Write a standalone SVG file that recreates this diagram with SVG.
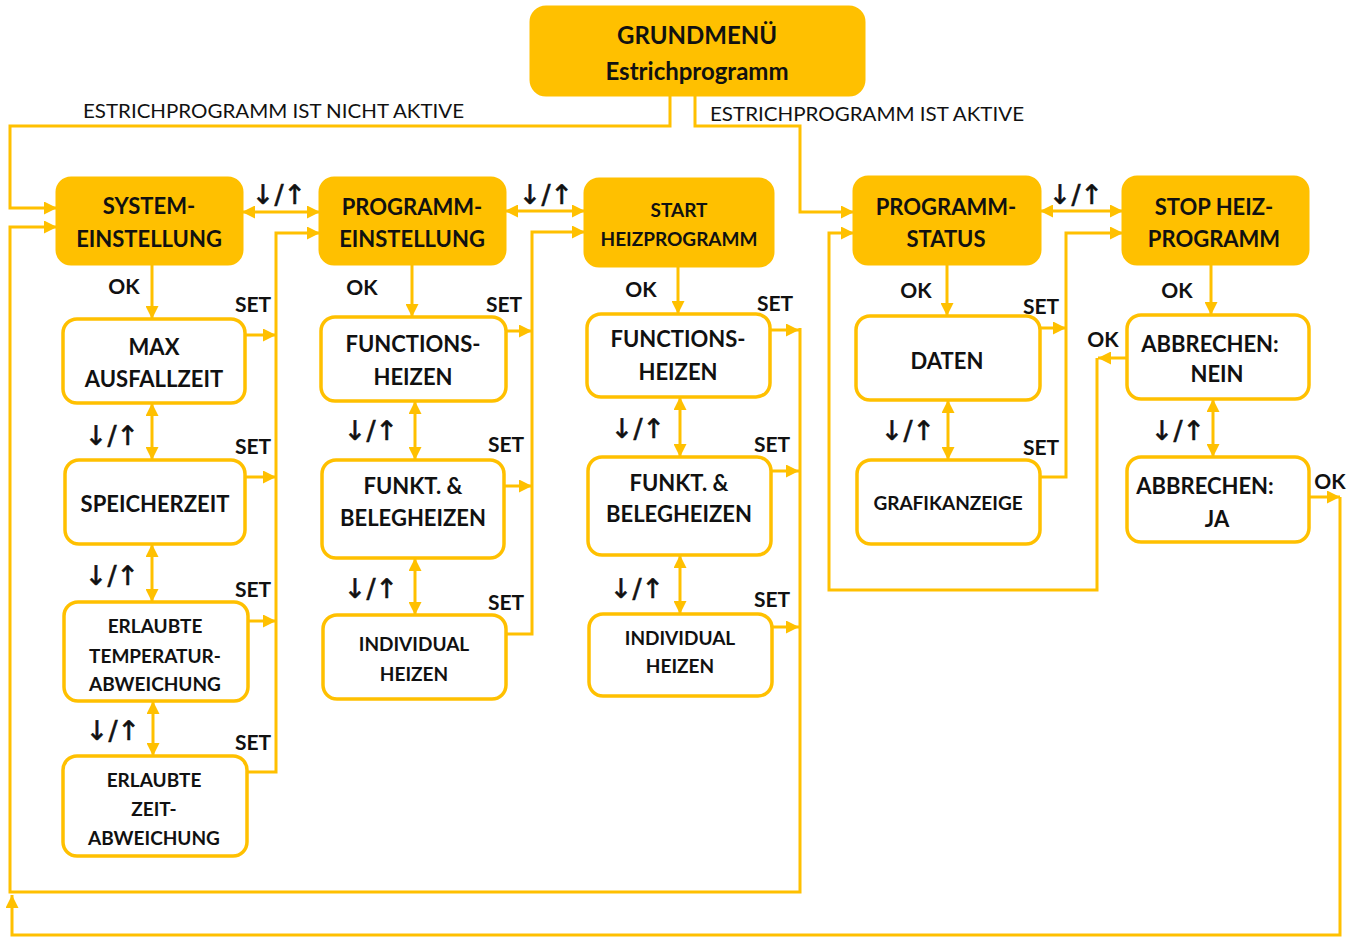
<svg xmlns="http://www.w3.org/2000/svg" width="1361" height="937" viewBox="0 0 1361 937">
<style>
.fill{fill:#FFC000;stroke:#FFC000;stroke-width:3}
.box{fill:#fff;stroke:#FFC000;stroke-width:3.5}
.t{font-family:Lato,"Liberation Sans",sans-serif;font-weight:bold;font-size:22px;fill:#111;text-anchor:middle;dominant-baseline:central}
.s{font-size:19px}
.lb{font-family:Lato,"Liberation Sans",sans-serif;font-weight:bold;font-size:21px;fill:#111;text-anchor:middle;dominant-baseline:central}
.ar{font-family:"DejaVu Sans",sans-serif;font-size:27px;fill:#111;stroke:#111;stroke-width:0.6;text-anchor:middle;dominant-baseline:central}
.n{font-family:Lato,"Liberation Sans",sans-serif;font-size:19.5px;fill:#111;dominant-baseline:central}
.c{fill:none;stroke:#FFC000;stroke-width:3}
.a{marker-end:url(#ah)}
.d{marker-start:url(#ah);marker-end:url(#ah)}
</style>
<defs>
<marker id="ah" viewBox="0 0 10 10" refX="10" refY="5" markerWidth="13" markerHeight="13" markerUnits="userSpaceOnUse" orient="auto-start-reverse">
<path d="M0,0 L10,5 L0,10 z" fill="#FFC000"/>
</marker>
</defs>
<rect width="1361" height="937" fill="#fff"/>

<g id="connectors">
<path class="c a" d="M670,95 V126 H10 V208 H57"/>
<path class="c a" d="M695,95 V126 H800 V212 H854"/>
<path class="c d" d="M242,212 H320"/>
<path class="c d" d="M505,211 H585"/>
<path class="c d" d="M1040,211 H1123"/>
<path class="c a" d="M152,264 V319"/>
<path class="c a" d="M412,264 V317"/>
<path class="c a" d="M678,266 V314"/>
<path class="c a" d="M947,264 V316"/>
<path class="c a" d="M1211,264 V315"/>
<path class="c d" d="M152,403 V460"/>
<path class="c d" d="M152,544 V602"/>
<path class="c d" d="M153,701 V756"/>
<path class="c d" d="M415,401 V460"/>
<path class="c d" d="M415,558 V615"/>
<path class="c d" d="M680,397 V457"/>
<path class="c d" d="M680,555 V614"/>
<path class="c d" d="M948,400 V460"/>
<path class="c d" d="M1213,399 V457"/>
<path class="c a" d="M245,335 H276"/>
<path class="c a" d="M245,477 H276"/>
<path class="c a" d="M248,621 H276"/>
<path class="c a" d="M247,772 H276 V233 H320"/>
<path class="c a" d="M506,331 H532"/>
<path class="c a" d="M504,486 H532"/>
<path class="c a" d="M506,634 H532 V232 H585"/>
<path class="c a" d="M770,330 H799"/>
<path class="c a" d="M771,471 H799"/>
<path class="c a" d="M772,627 H799"/>
<path class="c a" d="M800,328 V892 H10 V227 H57"/>
<path class="c a" d="M1040,328 H1066"/>
<path class="c a" d="M1040,477 H1066 V233 H1123"/>
<path class="c a" d="M1127,358 H1098"/>
<path class="c a" d="M1097,358 V590 H829 V233 H854"/>
<path class="c a" d="M1309,497 H1340"/>
<path class="c a" d="M1340,497 V935 H12 V895"/>
</g>

<g id="labels">
<text class="n" x="83" y="110" textLength="381" lengthAdjust="spacingAndGlyphs">ESTRICHPROGRAMM IST NICHT AKTIVE</text>
<text class="n" x="710" y="113" textLength="314" lengthAdjust="spacingAndGlyphs">ESTRICHPROGRAMM IST AKTIVE</text>
<text class="lb" x="124" y="285">OK</text>
<text class="lb" x="362" y="286">OK</text>
<text class="lb" x="641" y="288">OK</text>
<text class="lb" x="916" y="289">OK</text>
<text class="lb" x="1177" y="289">OK</text>
<text class="lb" x="1103" y="338">OK</text>
<text class="lb" x="1330" y="480">OK</text>
<text class="lb" x="253" y="303">SET</text>
<text class="lb" x="253" y="445">SET</text>
<text class="lb" x="253" y="588">SET</text>
<text class="lb" x="253" y="741">SET</text>
<text class="lb" x="504" y="303">SET</text>
<text class="lb" x="506" y="443">SET</text>
<text class="lb" x="506" y="601">SET</text>
<text class="lb" x="775" y="302">SET</text>
<text class="lb" x="772" y="443">SET</text>
<text class="lb" x="772" y="598">SET</text>
<text class="lb" x="1041" y="305">SET</text>
<text class="lb" x="1041" y="446">SET</text>
<text class="ar" x="279" y="194">↓/↑</text>
<text class="ar" x="546" y="194">↓/↑</text>
<text class="ar" x="1076" y="194">↓/↑</text>
<text class="ar" x="112" y="435">↓/↑</text>
<text class="ar" x="112" y="575">↓/↑</text>
<text class="ar" x="113" y="730">↓/↑</text>
<text class="ar" x="371" y="430">↓/↑</text>
<text class="ar" x="371" y="588">↓/↑</text>
<text class="ar" x="638" y="428">↓/↑</text>
<text class="ar" x="637" y="588">↓/↑</text>
<text class="ar" x="908" y="430">↓/↑</text>
<text class="ar" x="1178" y="430">↓/↑</text>
</g>

<g id="grundmenu">
<rect class="fill" x="531" y="7" width="333" height="88" rx="15"/>
<text class="t" x="697" y="34" style="font-size:24px">GRUNDMENÜ</text>
<text class="t" x="697" y="70" style="font-size:24px">Estrichprogramm</text>
</g>
<g id="system">
<rect class="fill" x="57" y="178" width="185" height="86" rx="14"/>
<text class="t" x="149" y="205">SYSTEM-</text>
<text class="t" x="149" y="238">EINSTELLUNG</text>
</g>
<g id="programm">
<rect class="fill" x="320" y="178" width="185" height="86" rx="14"/>
<text class="t" x="412" y="206">PROGRAMM-</text>
<text class="t" x="412" y="238">EINSTELLUNG</text>
</g>
<g id="start">
<rect class="fill" x="585" y="179" width="188" height="87" rx="14"/>
<text class="t s" x="679" y="209">START</text>
<text class="t s" x="679" y="238">HEIZPROGRAMM</text>
</g>
<g id="pstatus">
<rect class="fill" x="854" y="177" width="186" height="87" rx="14"/>
<text class="t" x="946" y="206">PROGRAMM-</text>
<text class="t" x="946" y="238">STATUS</text>
</g>
<g id="stop">
<rect class="fill" x="1123" y="177" width="185" height="87" rx="14"/>
<text class="t" x="1214" y="206">STOP HEIZ-</text>
<text class="t" x="1214" y="238">PROGRAMM</text>
</g>

<g id="max">
<rect class="box" x="63" y="319" width="182" height="84" rx="14"/>
<text class="t" x="154" y="346">MAX</text>
<text class="t" x="154" y="378">AUSFALLZEIT</text>
</g>
<g id="speicher">
<rect class="box" x="65" y="460" width="180" height="84" rx="14"/>
<text class="t" x="155" y="503">SPEICHERZEIT</text>
</g>
<g id="temp">
<rect class="box" x="64" y="602" width="184" height="99" rx="14"/>
<text class="t s" x="155" y="625">ERLAUBTE</text>
<text class="t s" x="155" y="655">TEMPERATUR-</text>
<text class="t s" x="155" y="683">ABWEICHUNG</text>
</g>
<g id="zeit">
<rect class="box" x="63" y="756" width="184" height="100" rx="14"/>
<text class="t s" x="154" y="779">ERLAUBTE</text>
<text class="t s" x="154" y="808">ZEIT-</text>
<text class="t s" x="154" y="837">ABWEICHUNG</text>
</g>

<g id="func1">
<rect class="box" x="321" y="317" width="185" height="84" rx="14"/>
<text class="t" x="413" y="343">FUNCTIONS-</text>
<text class="t" x="413" y="376">HEIZEN</text>
</g>
<g id="beleg1">
<rect class="box" x="322" y="460" width="182" height="98" rx="14"/>
<text class="t" x="413" y="485">FUNKT. &amp;</text>
<text class="t" x="413" y="517">BELEGHEIZEN</text>
</g>
<g id="indiv1">
<rect class="box" x="323" y="615" width="183" height="84" rx="14"/>
<text class="t s" x="414" y="643">INDIVIDUAL</text>
<text class="t s" x="414" y="673">HEIZEN</text>
</g>

<g id="func2">
<rect class="box" x="587" y="314" width="183" height="83" rx="14"/>
<text class="t" x="678" y="338">FUNCTIONS-</text>
<text class="t" x="678" y="371">HEIZEN</text>
</g>
<g id="beleg2">
<rect class="box" x="588" y="457" width="183" height="98" rx="14"/>
<text class="t" x="679" y="482">FUNKT. &amp;</text>
<text class="t" x="679" y="513">BELEGHEIZEN</text>
</g>
<g id="indiv2">
<rect class="box" x="589" y="614" width="183" height="82" rx="14"/>
<text class="t s" x="680" y="637">INDIVIDUAL</text>
<text class="t s" x="680" y="665">HEIZEN</text>
</g>

<g id="daten">
<rect class="box" x="856" y="316" width="184" height="84" rx="14"/>
<text class="t" x="947" y="360">DATEN</text>
</g>
<g id="grafik">
<rect class="box" x="857" y="460" width="183" height="84" rx="14"/>
<text class="t s" x="948" y="502">GRAFIKANZEIGE</text>
</g>
<g id="nein">
<rect class="box" x="1127" y="315" width="182" height="84" rx="14"/>
<text class="t" x="1210" y="343">ABBRECHEN:</text>
<text class="t" x="1217" y="373">NEIN</text>
</g>
<g id="ja">
<rect class="box" x="1127" y="457" width="182" height="85" rx="14"/>
<text class="t" x="1205" y="485">ABBRECHEN:</text>
<text class="t" x="1217" y="518">JA</text>
</g>
</svg>
